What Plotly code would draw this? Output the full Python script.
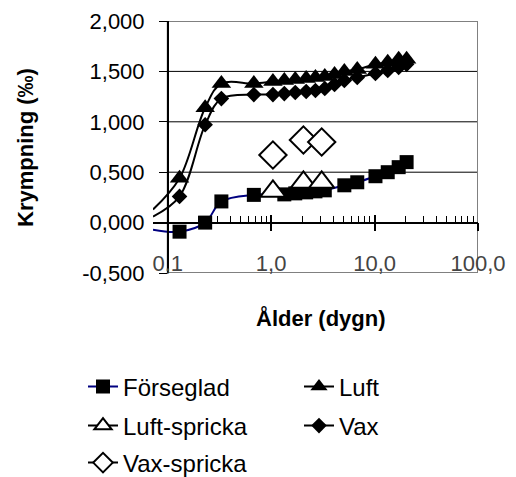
import math
import plotly.graph_objects as go

# Ages (days) and shrinkage (per mille) for each curing condition
alder_forseglad = [0.13, 0.23, 0.33, 0.68, 1.34, 1.71, 2.18, 2.68, 3.3, 5.1, 6.8, 10.2, 13.4, 17.1, 20.4]
krymp_forseglad = [-0.09, 0.00, 0.21, 0.275, 0.28, 0.29, 0.30, 0.31, 0.32, 0.37, 0.40, 0.46, 0.50, 0.55, 0.60]

alder_luft = [0.13, 0.23, 0.33, 0.68, 1.04, 1.34, 1.71, 2.18, 2.68, 3.3, 4.1, 5.1, 6.8, 10.2, 13.4, 17.1, 20.4]
krymp_luft = [0.44, 1.14, 1.38, 1.38, 1.40, 1.41, 1.42, 1.43, 1.44, 1.45, 1.47, 1.50, 1.52, 1.57, 1.59, 1.62, 1.62]

alder_vax = [0.13, 0.23, 0.33, 0.68, 1.04, 1.34, 1.71, 2.18, 2.68, 3.3, 4.1, 5.1, 6.8, 10.2, 13.4, 17.1, 20.4]
krymp_vax = [0.26, 0.97, 1.23, 1.27, 1.27, 1.28, 1.29, 1.30, 1.31, 1.33, 1.37, 1.41, 1.44, 1.48, 1.51, 1.54, 1.57]

alder_luft_spricka = [1.04, 2.05, 3.08]
krymp_luft_spricka = [0.31, 0.40, 0.40]

alder_vax_spricka = [1.04, 2.05, 3.08]
krymp_vax_spricka = [0.67, 0.82, 0.80]

# Where the smoothed curves start, left of the y axis
kurvstart_alder = 0.072
kurvstart_forseglad = -0.07
kurvstart_luft = 0.13
kurvstart_vax = 0.06

x_tickvals = [0.1, 1, 10, 100]
x_ticktext = ["0,1", "1,0", "10,0", "100,0"]
y_tickvals = [-0.5, 0.0, 0.5, 1.0, 1.5, 2.0]
y_ticktext = ["-0,500", "0,000", "0,500", "1,000", "1,500", "2,000"]

FONT = "Arial, Liberation Sans, sans-serif"
NAVY = "#000080"
W, H = 516, 477

x_lo = math.log10(kurvstart_alder)
x_hi = 2.0
yaxis_pos = (math.log10(0.1) - x_lo) / (x_hi - x_lo)
minor_vals = [m * d for d in (0.1, 1, 10) for m in range(2, 10)]

fig = go.Figure()


def add_series(name, xs, ys, start_y, line_color, symbol, fill, msize, mline, legend):
    if start_y is not None:
        fig.add_trace(go.Scatter(
            x=[kurvstart_alder] + xs, y=[start_y] + ys, mode="lines",
            line=dict(color=line_color, width=2, shape="spline", smoothing=1.0),
            showlegend=False, hoverinfo="skip"))
    fig.add_trace(go.Scatter(
        x=xs, y=ys, mode="markers", name=name, showlegend=False,
        marker=dict(symbol=symbol, size=msize, color=fill,
                    line=dict(color="black", width=mline))))
    fig.add_trace(go.Scatter(
        x=[None], y=[None], mode="lines+markers", name=name, legend=legend,
        line=dict(color=line_color, width=2),
        marker=dict(symbol=symbol, size=min(msize, 15), color=fill,
                    line=dict(color="black", width=mline))))


add_series("Förseglad", alder_forseglad, krymp_forseglad, kurvstart_forseglad,
           NAVY, "square", "black", 14, 0, "legend")
add_series("Luft", alder_luft, krymp_luft, kurvstart_luft,
           "black", "triangle-up", "black", 17, 0, "legend2")
add_series("Luft-spricka", alder_luft_spricka, krymp_luft_spricka, None,
           "black", "triangle-up", "white", 22, 2, "legend3")
add_series("Vax", alder_vax, krymp_vax, kurvstart_vax,
           "black", "diamond", "black", 12, 0, "legend4")
add_series("Vax-spricka", alder_vax_spricka, krymp_vax_spricka, None,
           "black", "diamond", "white", 21, 2, "legend5")

# empty traces so the axis through y=0 is drawn
fig.add_trace(go.Scatter(x=[None], y=[None], xaxis="x2", showlegend=False))
fig.add_trace(go.Scatter(x=[None], y=[None], xaxis="x3", showlegend=False))

shapes = []
for v in y_tickvals[2:-1]:
    shapes.append(dict(type="line", xref="x", yref="y", x0=0.1, x1=100, y0=v, y1=v,
                       line=dict(color="black", width=1), layer="below"))
shapes.append(dict(type="rect", xref="x", yref="y", x0=0.1, x1=100, y0=-0.5, y1=2.0,
                   line=dict(color="#808080", width=2), layer="below"))


def legend_box(px_x, px_y):
    return dict(orientation="h", xref="container", yref="container",
                x=px_x / W, y=1 - px_y / H, xanchor="left", yanchor="middle",
                font=dict(size=24), bgcolor="rgba(0,0,0,0)", borderwidth=0)


col1, col2 = 83, 299
row1, row2, row3 = 387, 426, 463

fig.update_layout(
    template="none",
    width=W, height=H,
    margin=dict(l=153, r=38, t=21, b=204),
    paper_bgcolor="white", plot_bgcolor="white",
    font=dict(family=FONT, size=22, color="black"),
    shapes=shapes,
    xaxis=dict(type="log", range=[x_lo, x_hi], tickvals=x_tickvals, ticktext=x_ticktext,
               ticks="", showgrid=False, zeroline=False, showline=False, automargin=False,
               ticklabelposition="inside", ticklabeloverflow="allow",
               ticklabelstandoff=-5, tickfont=dict(size=22)),
    xaxis2=dict(type="log", matches="x", overlaying="x", anchor="free", position=0.2,
                showline=True, linecolor="black", linewidth=1.5, automargin=False,
                tickvals=x_tickvals, ticks="outside", ticklen=8, tickcolor="black",
                tickwidth=1.5, showticklabels=False, showgrid=False, zeroline=False,
                minor=dict(tickvals=minor_vals, ticks="inside", ticklen=6,
                           tickcolor="black", tickwidth=1, showgrid=False)),
    xaxis3=dict(type="log", matches="x", overlaying="x", anchor="free", position=0.2,
                showline=False, tickvals=x_tickvals, ticks="inside", ticklen=8,
                tickcolor="black", tickwidth=1.5, showticklabels=False, automargin=False,
                showgrid=False, zeroline=False),
    yaxis=dict(range=[-0.5, 2.0], tickvals=y_tickvals, ticktext=y_ticktext,
               anchor="free", position=yaxis_pos, automargin=False,
               showline=True, linecolor="black", linewidth=1.5,
               ticks="outside", ticklen=8, tickcolor="black", tickwidth=1,
               ticklabelstandoff=10,
               showgrid=False, zeroline=False, tickfont=dict(size=22)),
    legend=legend_box(col1, row1),
    legend2=legend_box(col2, row1),
    legend3=legend_box(col1, row2),
    legend4=legend_box(col2, row2),
    legend5=legend_box(col1, row3),
    annotations=[
        dict(text="<b>Ålder (dygn)</b>", xref="paper", yref="paper", x=0.517,
             y=(273 - 318) / 252, xanchor="center", yanchor="middle",
             showarrow=False, font=dict(size=22)),
        dict(text="<b>Krympning (‰)</b>", xref="paper", yref="paper", x=-0.394, y=0.5,
             xanchor="center", yanchor="middle", textangle=-90, showarrow=False,
             font=dict(size=22)),
    ],
)

fig.write_html("out.html")
